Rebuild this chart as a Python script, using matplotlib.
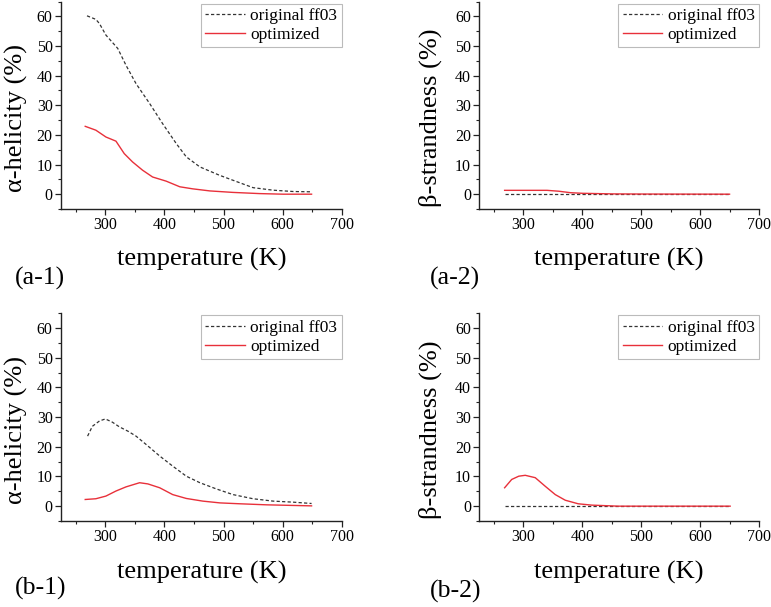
import matplotlib
matplotlib.use("Agg")
import matplotlib.pyplot as plt
from matplotlib.ticker import MultipleLocator

plt.rcParams['font.family'] = ['Liberation Serif', 'DejaVu Serif']

# ---- data ----
# (a-1) alpha-helicity
a1_orig_T = [269, 284, 290, 301, 321, 335, 352, 375, 397, 420, 437, 460, 493, 516, 550, 584, 618, 649]
a1_orig_v = [60.2, 59.0, 57.6, 53.7, 49.2, 43.5, 37.3, 30.6, 23.8, 17.1, 12.6, 9.2, 6.4, 4.7, 2.2, 1.35, 0.9, 0.8]
a1_opt_T = [266, 284, 301, 318, 332, 346, 363, 380, 403, 426, 448, 477, 516, 561, 601, 649]
a1_opt_v = [22.9, 21.6, 19.3, 17.9, 13.7, 10.9, 8.1, 5.8, 4.4, 2.5, 1.8, 1.1, 0.6, 0.2, 0.0, 0.0]
# (a-2) beta-strandness
a2_orig_T = [268, 350, 450, 550, 650]
a2_orig_v = [0.0, 0.0, 0.0, 0.0, 0.0]
a2_opt_T = [268, 300, 340, 360, 380, 400, 450, 500, 650]
a2_opt_v = [1.3, 1.3, 1.3, 1.0, 0.5, 0.3, 0.1, 0.05, 0.0]
# (b-1) alpha-helicity
b1_orig_T = [270, 278, 290, 300, 312, 324, 338, 352, 369, 392, 414, 437, 460, 488, 516, 550, 584, 618, 649]
b1_orig_v = [23.6, 26.9, 28.7, 29.4, 28.3, 26.7, 25.3, 23.6, 20.8, 16.9, 13.5, 10.1, 7.9, 5.8, 3.9, 2.5, 1.7, 1.35, 0.9]
b1_opt_T = [266, 284, 301, 318, 335, 358, 372, 392, 414, 437, 465, 494, 528, 573, 649]
b1_opt_v = [2.25, 2.5, 3.4, 5.1, 6.5, 7.9, 7.5, 6.2, 3.9, 2.6, 1.7, 1.1, 0.8, 0.45, 0.1]
# (b-2) beta-strandness
b2_orig_T = [268, 350, 450, 550, 650]
b2_orig_v = [0.0, 0.0, 0.0, 0.0, 0.0]
b2_opt_T = [268, 280, 292, 303, 320, 337, 354, 371, 393, 416, 461, 550, 651]
b2_opt_v = [6.2, 9.0, 10.1, 10.4, 9.6, 6.7, 3.9, 2.0, 0.8, 0.35, 0.0, 0.0, 0.0]

legend_labels = ["original ff03", "optimized"]
panel_tags = ["(a-1)", "(a-2)", "(b-1)", "(b-2)"]
ylabels = ["α-helicity (%)", "β-strandness (%)"]
xlabel = "temperature (K)"

W, H = 771, 607
fig = plt.figure(figsize=(W / 100, H / 100), dpi=100)

boxes = [  # left, top, right, bottom in pixels
    (61, 1.6, 341.7, 209),
    (479.3, 1.6, 759, 209),
    (61, 313.3, 341.7, 521),
    (479.3, 313.3, 759, 521),
]
series = [
    (a1_orig_T, a1_orig_v, a1_opt_T, a1_opt_v, 0),
    (a2_orig_T, a2_orig_v, a2_opt_T, a2_opt_v, 1),
    (b1_orig_T, b1_orig_v, b1_opt_T, b1_opt_v, 0),
    (b2_orig_T, b2_orig_v, b2_opt_T, b2_opt_v, 1),
]
tag_pos = [(15, 278), (430, 278), (15, 588), (430, 591)]

for i, (box, s) in enumerate(zip(boxes, series)):
    l, t, r, b = box
    ax = fig.add_axes([l / W, 1 - b / H, (r - l) / W, (b - t) / H])
    oT, ov, pT, pv, yl = s
    ax.plot(oT, ov, color='#333333', lw=0.9, dashes=(2.6, 1.8), label=legend_labels[0])
    ax.plot(pT, pv, color='#e8303a', lw=1.0, label=legend_labels[1])
    ax.set_xlim(225, 700)
    ax.set_ylim(-5, 65)
    ax.xaxis.set_major_locator(MultipleLocator(100))
    ax.xaxis.set_minor_locator(MultipleLocator(50))
    ax.yaxis.set_major_locator(MultipleLocator(10))
    ax.yaxis.set_minor_locator(MultipleLocator(5))
    for sp in ['top', 'right']:
        ax.spines[sp].set_visible(False)
    for sp in ['left', 'bottom']:
        ax.spines[sp].set_linewidth(1.0)
        ax.spines[sp].set_color('#222222')
    ax.tick_params(which='major', direction='out', length=4, width=0.9,
                   labelsize=11.5, color='#222222', pad=2)
    ax.tick_params(which='minor', direction='out', length=2.5, width=0.8, color='#222222')
    ax.set_xlabel(xlabel, fontsize=19)
    ax.set_ylabel(ylabels[yl], fontsize=19)
    ax.xaxis.set_label_coords(0.5, -0.19)
    ax.yaxis.set_label_coords(-0.118 if yl == 0 else -0.135, 0.44)
    leg = ax.legend(loc='upper right', bbox_to_anchor=(1.0, 0.99), borderaxespad=0,
                    fontsize=12.5, frameon=True, fancybox=False, handlelength=2.3,
                    handletextpad=0.3, labelspacing=0.15, borderpad=0.25)
    leg.get_frame().set_edgecolor('#aaaaaa')
    leg.get_frame().set_linewidth(0.8)
    tx, ty = tag_pos[i]
    fig.text(tx / W, 1 - ty / H, panel_tags[i], fontsize=18.5, ha='left', va='center')

fig.savefig("out.png", dpi=100)
